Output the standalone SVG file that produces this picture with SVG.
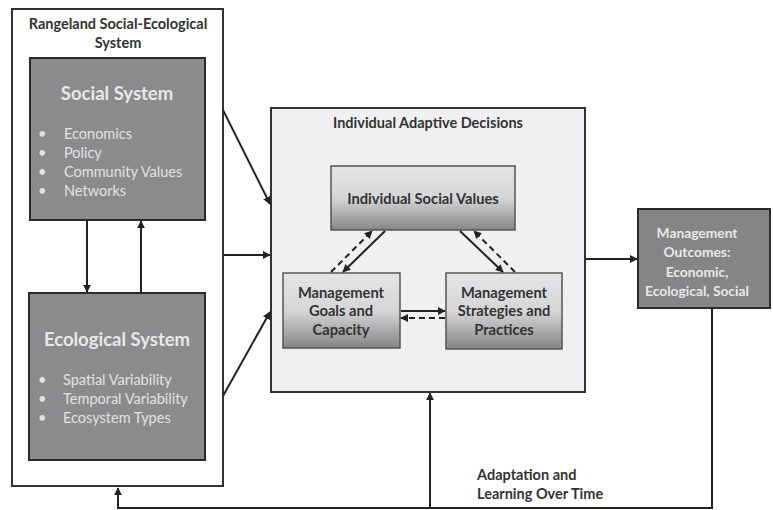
<svg xmlns="http://www.w3.org/2000/svg" width="773" height="510" viewBox="0 0 773 510">
<style>
.t{font-family:Lato,"Open Sans",sans-serif;font-weight:bold}
.dk{fill:#333}
.lt{fill:#e8e8e8}
.bl{fill:#e2e2e2;font-family:Lato,"Open Sans",sans-serif;font-size:14.5px}
.ln{stroke:#222;stroke-width:2;fill:none}
.ds{stroke:#222;stroke-width:2;fill:none;stroke-dasharray:6 4}
</style>
<defs>
<linearGradient id="g" x1="0" y1="0" x2="0" y2="1">
<stop offset="0" stop-color="#e4e4e6"/>
<stop offset="0.5" stop-color="#d6d6d8"/>
<stop offset="1" stop-color="#858587"/>
</linearGradient>
<marker id="a" viewBox="0 0 10 10" refX="9" refY="5" markerWidth="4" markerHeight="4" orient="auto"><path d="M0,0L10,5L0,10z" fill="#222"/></marker>
</defs>
<rect width="773" height="510" fill="#fff"/>
<g id="rangeland">
<rect x="12" y="9" width="211" height="477" fill="#fff" stroke="#333" stroke-width="2"/>
<text class="t dk" x="118" y="29" font-size="14.5" text-anchor="middle">Rangeland Social-Ecological</text>
<text class="t dk" x="118" y="48" font-size="14.5" text-anchor="middle">System</text>
</g>
<g id="social">
<rect x="30" y="58" width="175" height="162" fill="#8b8b8d" stroke="#2a2a2a" stroke-width="2"/>
<text class="t lt" x="117" y="100" font-size="18.5" text-anchor="middle">Social System</text>
<g class="bl"><text x="38" y="139">•</text><text x="64" y="139">Economics</text>
<text x="38" y="158">•</text><text x="64" y="158">Policy</text>
<text x="38" y="177">•</text><text x="64" y="177">Community Values</text>
<text x="38" y="196">•</text><text x="64" y="196">Networks</text></g>
</g>
<g id="ecological">
<rect x="29" y="293" width="176" height="167" fill="#8b8b8d" stroke="#2a2a2a" stroke-width="2"/>
<text class="t lt" x="117" y="346" font-size="18.5" text-anchor="middle">Ecological System</text>
<g class="bl"><text x="38" y="385">•</text><text x="63" y="385">Spatial Variability</text>
<text x="38" y="404">•</text><text x="63" y="404">Temporal Variability</text>
<text x="38" y="423">•</text><text x="63" y="423">Ecosystem Types</text></g>
</g>
<g id="decisions">
<rect x="271" y="108" width="314" height="284" fill="#f0f0f3" stroke="#333" stroke-width="2"/>
<text class="t dk" x="428" y="128" font-size="14.5" text-anchor="middle">Individual Adaptive Decisions</text>
</g>
<g id="values">
<rect x="331" y="166" width="184" height="64" fill="url(#g)" stroke="#555" stroke-width="1.5"/>
<text class="t dk" x="423" y="204" font-size="14.7" text-anchor="middle">Individual Social Values</text>
</g>
<g id="goals">
<rect x="283" y="273" width="117" height="75" fill="url(#g)" stroke="#555" stroke-width="1.5"/>
<text class="t dk" x="341" y="298" font-size="14.7" text-anchor="middle">Management</text>
<text class="t dk" x="341" y="316" font-size="14.7" text-anchor="middle">Goals and</text>
<text class="t dk" x="341" y="335" font-size="14.7" text-anchor="middle">Capacity</text>
</g>
<g id="strategies">
<rect x="446" y="273" width="116" height="76" fill="url(#g)" stroke="#555" stroke-width="1.5"/>
<text class="t dk" x="504" y="298" font-size="14.7" text-anchor="middle">Management</text>
<text class="t dk" x="504" y="316" font-size="14.7" text-anchor="middle">Strategies and</text>
<text class="t dk" x="504" y="335" font-size="14.7" text-anchor="middle">Practices</text>
</g>
<g id="outcomes">
<rect x="638" y="209" width="132" height="99" fill="#858587" stroke="#2a2a2a" stroke-width="2"/>
<text class="t lt" x="697" y="238" font-size="13.8" text-anchor="middle">Management</text>
<text class="t lt" x="697" y="257" font-size="13.8" text-anchor="middle">Outcomes:</text>
<text class="t lt" x="697" y="277" font-size="13.8" text-anchor="middle">Economic,</text>
<text class="t lt" x="697" y="296" font-size="13.8" text-anchor="middle">Ecological, Social</text>
</g>
<g id="feedback-label">
<text class="t dk" x="477" y="480" font-size="14.5">Adaptation and</text>
<text class="t dk" x="477" y="499" font-size="14.5">Learning Over Time</text>
</g>
<g id="connectors">
<line class="ln" x1="87" y1="221" x2="87" y2="292" marker-end="url(#a)"/>
<line class="ln" x1="141" y1="293" x2="141" y2="221" marker-end="url(#a)"/>
<line class="ln" x1="223" y1="110" x2="270" y2="204" marker-end="url(#a)"/>
<line class="ln" x1="224" y1="255" x2="270" y2="255" marker-end="url(#a)"/>
<line class="ln" x1="223" y1="396" x2="270" y2="312" marker-end="url(#a)"/>
<line class="ln" x1="586" y1="259" x2="637" y2="259" marker-end="url(#a)"/>
<line class="ln" x1="385" y1="231" x2="343" y2="272" marker-end="url(#a)"/>
<line class="ds" x1="331" y1="272" x2="372" y2="231" marker-end="url(#a)"/>
<line class="ln" x1="460" y1="231" x2="503" y2="272" marker-end="url(#a)"/>
<line class="ds" x1="515" y1="272" x2="474" y2="231" marker-end="url(#a)"/>
<line class="ln" x1="401" y1="311" x2="445" y2="311" marker-end="url(#a)"/>
<line class="ds" x1="445" y1="318" x2="401" y2="318" marker-end="url(#a)"/>
<polyline class="ln" points="712,309 712,508 118,508 118,488" marker-end="url(#a)"/>
<line class="ln" x1="430" y1="508" x2="430" y2="393" marker-end="url(#a)"/>
</g>
</svg>
